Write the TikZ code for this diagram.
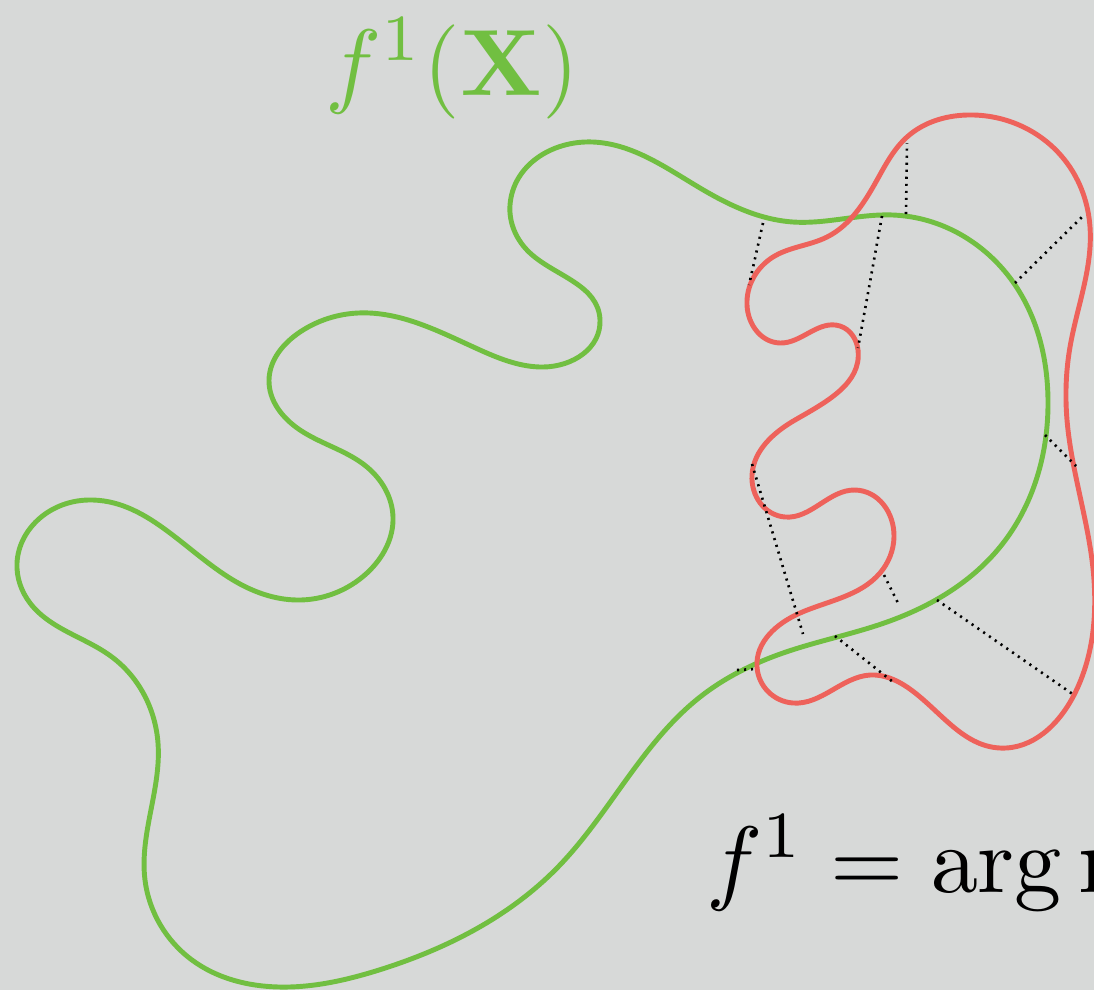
\documentclass[tikz,border=0pt]{standalone}
\usepackage{amsmath}
\usetikzlibrary{hobby}
\definecolor{bgc}{RGB}{215,217,216}
\definecolor{gcurve}{RGB}{113,191,65}
\definecolor{rcurve}{RGB}{238,98,91}
\begin{document}
\begin{tikzpicture}[x=0.01cm,y=-0.01cm,
  gline/.style={draw=gcurve,line width=1.4pt},
  rline/.style={draw=rcurve,line width=1.4pt},
  dotln/.style={draw=black,line width=0.75pt,dash pattern=on 0.6pt off 1.4pt},
  lbl/.style={inner sep=0pt,outer sep=0pt,scale=2.68,transform shape}]
\useasboundingbox (0,0) rectangle (1094,990);
\clip (0,0) rectangle (1094,990);
\fill[bgc] (0,0) rectangle (1094,990);
% green curve
\draw[gline, use Hobby shortcut, closed=true]
(510,205) .. (593,142) .. (700,188) .. (793,222) .. (893,215) .. (1013,282)
.. (1048,400) .. (1000,547) .. (887,622) .. (783,653) .. (700,697) .. (558,867)
.. (379,970) .. (279,987) .. (192,960) .. (145,880) .. (158,743) .. (112,657)
.. (30,603) .. (17,563) .. (40,518) .. (88,500) .. (233,580) .. (297,600)
.. (367,573) .. (393,517) .. (367,467) .. (300,430) .. (269,380) .. (300,332)
.. (358,313) .. (480,350) .. (543,367) .. (600,320) .. (530,253);
% red curve
\draw[rline, use Hobby shortcut, closed=true]
(907,137) .. (967,115) .. (1067,163) .. (1090,227) .. (1070,347) .. (1067,420)
.. (1092,560) .. (1074,695) .. (1000,748) .. (907,687) .. (870,675) .. (793,703)
.. (757,667) .. (800,613) .. (880,573) .. (894,537) .. (855,490) .. (785,517)
.. (752,475) .. (795,420) .. (858,350) .. (840,326) .. (780,343) .. (747,305)
.. (773,257) .. (827,237) .. (877,180);
% dotted projections
\coordinate (a1) at (763,223); \coordinate (b1) at (749,285);
\coordinate (a2) at (882,216); \coordinate (b2) at (858,348);
\coordinate (a3) at (906,214); \coordinate (b3) at (907,143);
\coordinate (a4) at (1015,283); \coordinate (b4) at (1084,215);
\coordinate (a5) at (1045,435); \coordinate (b5) at (1076,466);
\coordinate (a6) at (752,464); \coordinate (b6) at (803,634);
\coordinate (a7) at (884,575); \coordinate (b7) at (899,605);
\coordinate (a8) at (937,600); \coordinate (b8) at (1074,695);
\coordinate (a9) at (835,636); \coordinate (b9) at (893,682);
\coordinate (a10) at (737,670); \coordinate (b10) at (755,669);
\foreach \i in {1,...,10} \draw[dotln] (a\i) -- (b\i);
% labels
\node[lbl,text=gcurve,anchor=base west] (top) at (325,95) {$f^1(\mathbf{X})$};
\node[lbl,text=black,anchor=base west] (eq) at (706,892) {$f^1=\arg\min$};
\end{tikzpicture}
\end{document}
